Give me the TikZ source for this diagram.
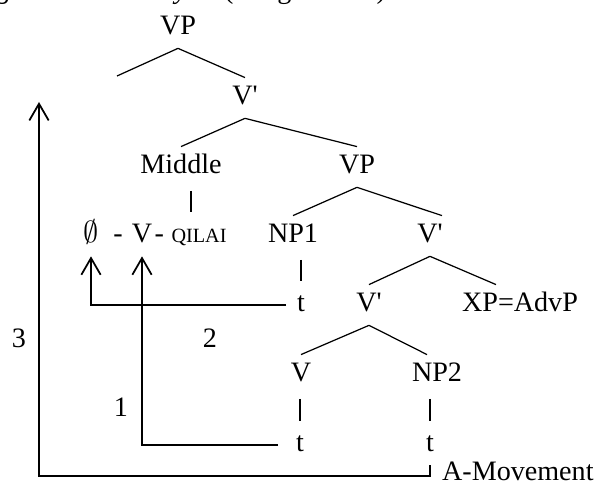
\documentclass[tikz,border=0pt]{standalone}
\usepackage{fontspec}
\setmainfont{Liberation Serif}
\usetikzlibrary{arrows.meta,positioning}
\tikzset{
  lbl/.style = {font=\fontsize{16}{19}\selectfont, anchor=base, inner xsep=1pt,
                inner ysep=4.2pt, text height=11.2pt, text depth=3.2pt},
  sml/.style = {lbl, font=\fontsize{11.5}{14}\selectfont},
  br/.style  = {line width=0.7pt},
  un/.style  = {line width=0.7pt, shorten <=2pt, shorten >=2pt},
  mv/.style  = {-{Straight Barb[length=9.5pt,width=11pt]}, line width=1pt},
}
\begin{document}
\begin{tikzpicture}[x=0.02cm, y=-0.02cm]
  \useasboundingbox (0,0) rectangle (600,486);
  \clip (0,0) rectangle (600,486);
  \node[lbl, anchor=base east] (cap) at (388,-1) {\textit{ng's Middle Analysis} (Sung 1994:4)};
  \node[lbl] (vp) at (178,35) {VP};
  \node[lbl] (vbar) at (245,105) {V\textquotesingle};
  \node[lbl] (middle) at (181,174) {Middle};
  \node[lbl] (vpb) at (357,174) {VP};
  \node[lbl] (null) at (91,243) {$\emptyset$};
  \node[lbl] (dsha) at (118,243) {-};
  \node[lbl] (vv) at (142,243) {V};
  \node[lbl, right=0pt of vv, inner xsep=0pt] (dshb) {-};
  \node[sml] (qilai) at (199,243) {QILAI};
  \node[lbl] (np1) at (293,243) {NP1};
  \node[lbl] (vbr) at (430,243) {V\textquotesingle};
  \node[lbl] (tnp) at (301,312) {t};
  \node[lbl] (vbl) at (369,312) {V\textquotesingle};
  \node[lbl] (xp) at (520,312) {XP=AdvP};
  \node[lbl] (vlo) at (301,382) {V};
  \node[lbl] (npb) at (437,382) {NP2};
  \node[lbl] (tv) at (300,452) {t};
  \node[lbl] (tnpb) at (430,452) {t};
  \node[lbl] (labc) at (19,348) {3};
  \node[lbl] (labb) at (210,348) {2};
  \node[lbl] (laba) at (121,417) {1};
  \node[lbl, anchor=base west] (amove) at (440,481) {A-Movement};
  \coordinate (spec) at (117,76);
  \coordinate (top3) at (39,102);

  \draw[br] (vp.south) -- (spec);
  \draw[br] (vp.south) -- (vbar.north);
  \draw[br] (vbar.south) -- (middle.north);
  \draw[br] (vbar.south) -- (vpb.north);
  \draw[br] (vpb.south) -- (np1.north);
  \draw[br] (vpb.south) -- ([xshift=0.24cm]vbr.north);
  \draw[br] (vbr.south) -- (vbl.north);
  \draw[br] (vbr.south) -- ([xshift=-0.48cm]xp.north);
  \draw[br] (vbl.south) -- (vlo.north);
  \draw[br] (vbl.south) -- ([xshift=-0.2cm]npb.north);
  \draw[un] ([xshift=0.2cm]middle.south) -- ([xshift=0.2cm]middle.south |- qilai.north);
  \draw[un] (tnp.north |- np1.south) -- (tnp.north);
  \draw[un] (tv.north |- vlo.south) -- (tv.north);
  \draw[un] (tnpb.north |- npb.south) -- (tnpb.north);

  \draw[mv, shorten <=5pt] (tnp.west) -| (null.south);
  \draw[mv, shorten <=9pt] (tv.west) -| (vv.south);
  \draw[mv] (tnpb.south) -- ++(0,11) -| (top3);
\end{tikzpicture}
\end{document}
